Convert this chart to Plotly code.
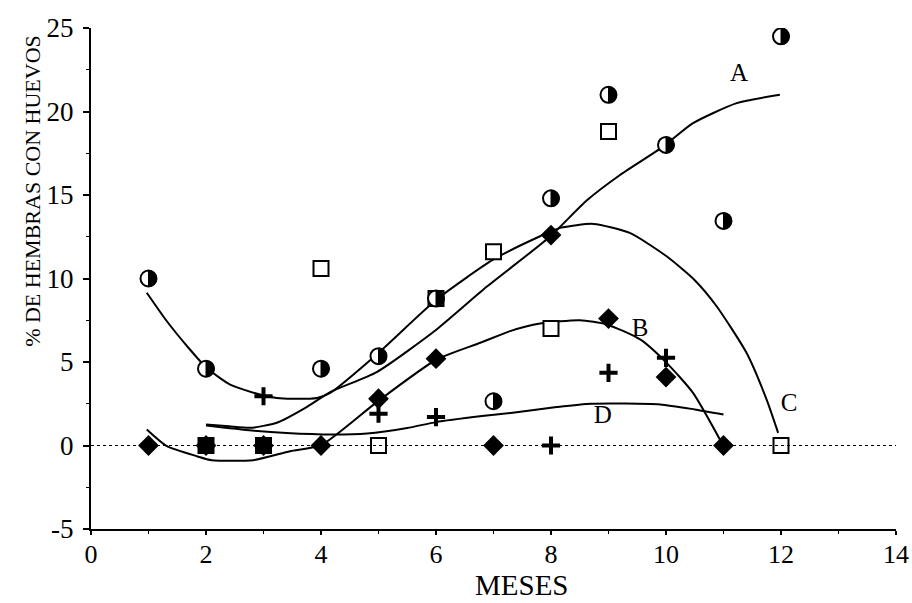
import plotly.graph_objects as go

# --- data ---
circ_x = [1, 2, 4, 5, 6, 7, 8, 9, 10, 11, 12]
circ_y = [10.0, 4.6, 4.6, 5.35, 8.8, 2.65, 14.8, 21.0, 18.0, 13.45, 24.5]

sq_x = [2, 3, 4, 5, 6, 7, 8, 9, 12]
sq_y = [0, 0, 10.6, 0, 8.8, 11.6, 7.0, 18.8, 0]
sq_fill = ["black", "black", "white", "white", "white", "white", "white", "white", "white"]

dia_x = [1, 2, 3, 4, 5, 6, 7, 8, 9, 10, 11]
dia_y = [0, 0, 0, 0, 2.8, 5.2, 0, 12.6, 7.6, 4.1, 0]

plus_x = [3, 5, 6, 8, 9, 10]
plus_y = [2.95, 1.9, 1.7, 0, 4.35, 5.25]

# fitted curves
curveA_x = [2.0, 2.4, 2.77, 3.23, 3.75, 4.16, 4.97, 6.01, 6.88, 7.98, 8.62, 9.2, 9.95, 10.47, 11.23, 11.98]
curveA_y = [1.26, 1.15, 1.06, 1.36, 2.3, 3.2, 4.4, 6.95, 9.5, 12.5, 14.67, 16.2, 17.9, 19.3, 20.5, 21.0]

curveB_x = [0.97, 1.32, 1.84, 2.1, 2.82, 3.46, 4.0, 4.97, 6.01, 6.77, 7.29, 7.81, 8.5, 8.97, 9.55, 10.01, 10.47, 11.0]
curveB_y = [0.96, -0.04, -0.64, -0.88, -0.88, -0.34, 0.02, 2.6, 5.15, 6.15, 6.85, 7.3, 7.5, 7.25, 6.35, 4.95, 3.15, -0.04]

curveC_x = [0.97, 1.32, 1.72, 2.01, 2.42, 2.94, 3.23, 3.5, 3.93, 4.16, 4.97, 6.01, 7.0, 7.81, 8.16, 8.74, 9.37, 10.01, 10.5, 10.88, 11.4, 11.75, 11.95]
curveC_y = [9.15, 7.44, 5.75, 4.65, 3.65, 3.05, 2.85, 2.8, 2.85, 3.15, 5.45, 8.74, 11.14, 12.53, 13.03, 13.27, 12.73, 11.33, 9.9, 8.34, 5.55, 2.75, 0.76]

curveD_x = [2.0, 2.8, 3.4, 4.2, 4.8, 5.5, 6.0, 6.8, 7.3, 8.1, 8.7, 9.9, 10.5, 11.0]
curveD_y = [1.2, 0.9, 0.75, 0.66, 0.72, 1.05, 1.4, 1.76, 1.95, 2.3, 2.5, 2.46, 2.16, 1.86]

curve_labels = ["A", "B", "C", "D"]
label_x = [11.27, 9.55, 12.14, 8.9]
label_y = [22.2, 6.95, 2.45, 1.74]

x_ticks = [0, 2, 4, 6, 8, 10, 12, 14]
y_ticks = [-5, 0, 5, 10, 15, 20, 25]
y_ticklabels = ["-5", "0", "5", "10", "15", "20", "25"]

x_title = "MESES"
y_title = "% DE HEMBRAS CON HUEVOS"

serif = "Liberation Serif, Times New Roman, serif"

fig = go.Figure()

fig.add_hline(y=0, line=dict(color="black", width=1, dash="dot"))

for cx, cy in [(curveA_x, curveA_y), (curveB_x, curveB_y), (curveC_x, curveC_y), (curveD_x, curveD_y)]:
    fig.add_trace(go.Scatter(x=cx, y=cy, mode="lines", line=dict(color="black", width=2, shape="spline", smoothing=0.6),
                             showlegend=False, hoverinfo="skip"))

fig.add_trace(go.Scatter(x=dia_x, y=dia_y, mode="markers",
                         marker=dict(symbol="diamond", size=16, color="black", line=dict(width=0)),
                         showlegend=False))
fig.add_trace(go.Scatter(x=sq_x, y=sq_y, mode="markers",
                         marker=dict(symbol="square", size=15, color=sq_fill, line=dict(color="black", width=2)),
                         showlegend=False))
fig.add_trace(go.Scatter(x=plus_x, y=plus_y, mode="markers",
                         marker=dict(symbol="cross-thin", size=13, color="black", line=dict(color="black", width=4)),
                         showlegend=False))

fig.add_trace(go.Scatter(x=label_x, y=label_y, mode="text", text=curve_labels,
                         textposition="middle center",
                         textfont=dict(family=serif, size=25, color="black"),
                         showlegend=False))

# half-filled circles: pixel-sized shapes anchored at each data point
R = 8
k = 0.5523 * R
half_path = (f"M 0,{R} C {k},{R} {R},{k} {R},0 "
             f"C {R},{-k} {k},{-R} 0,{-R} Z")
for cx, cy in zip(circ_x, circ_y):
    fig.add_shape(type="circle", xref="x", yref="y", xsizemode="pixel", ysizemode="pixel",
                  xanchor=cx, yanchor=cy, x0=-R, x1=R, y0=-R, y1=R,
                  fillcolor="white", line=dict(color="black", width=2), layer="above")
    fig.add_shape(type="path", xref="x", yref="y", xsizemode="pixel", ysizemode="pixel",
                  xanchor=cx, yanchor=cy, path=half_path,
                  fillcolor="black", line=dict(color="black", width=1), layer="above")

fig.update_layout(
    width=912, height=603,
    margin=dict(l=91, r=16, t=28, b=74),
    paper_bgcolor="white", plot_bgcolor="white",
    font=dict(family=serif, color="black"),
    xaxis=dict(range=[0, 14], tickvals=x_ticks, showgrid=False, zeroline=False,
               automargin=False,
               showline=True, linecolor="black", linewidth=2, ticks="outside", ticklen=4, tickwidth=2,
               tickcolor="black", tickfont=dict(size=26, family=serif), ticklabelstandoff=-3,
               minor=dict(dtick=1, ticks="outside", ticklen=3, tickcolor="black", tickwidth=1, showgrid=False)),
    yaxis=dict(range=[-5, 25], tickvals=y_ticks, ticktext=y_ticklabels, showgrid=False, zeroline=False,
               automargin=False,
               showline=True, linecolor="black", linewidth=2, ticks="outside", ticklen=6, tickwidth=2,
               tickcolor="black", tickfont=dict(size=27, family=serif), ticklabelstandoff=4,
               minor=dict(dtick=2.5, ticks="outside", ticklen=3, tickcolor="black", tickwidth=1, showgrid=False)),
    annotations=[
        dict(text=y_title, textangle=-90, xref="paper", yref="paper", x=-0.072, y=0.675,
             xanchor="center", yanchor="middle", showarrow=False,
             font=dict(size=22, family=serif, color="black")),
        dict(text=x_title, xref="paper", yref="paper", x=0.535, y=-0.145,
             xanchor="center", yanchor="bottom", showarrow=False, borderpad=0,
             font=dict(size=29, family=serif, color="black")),
    ],
)

fig.write_html("out.html")
